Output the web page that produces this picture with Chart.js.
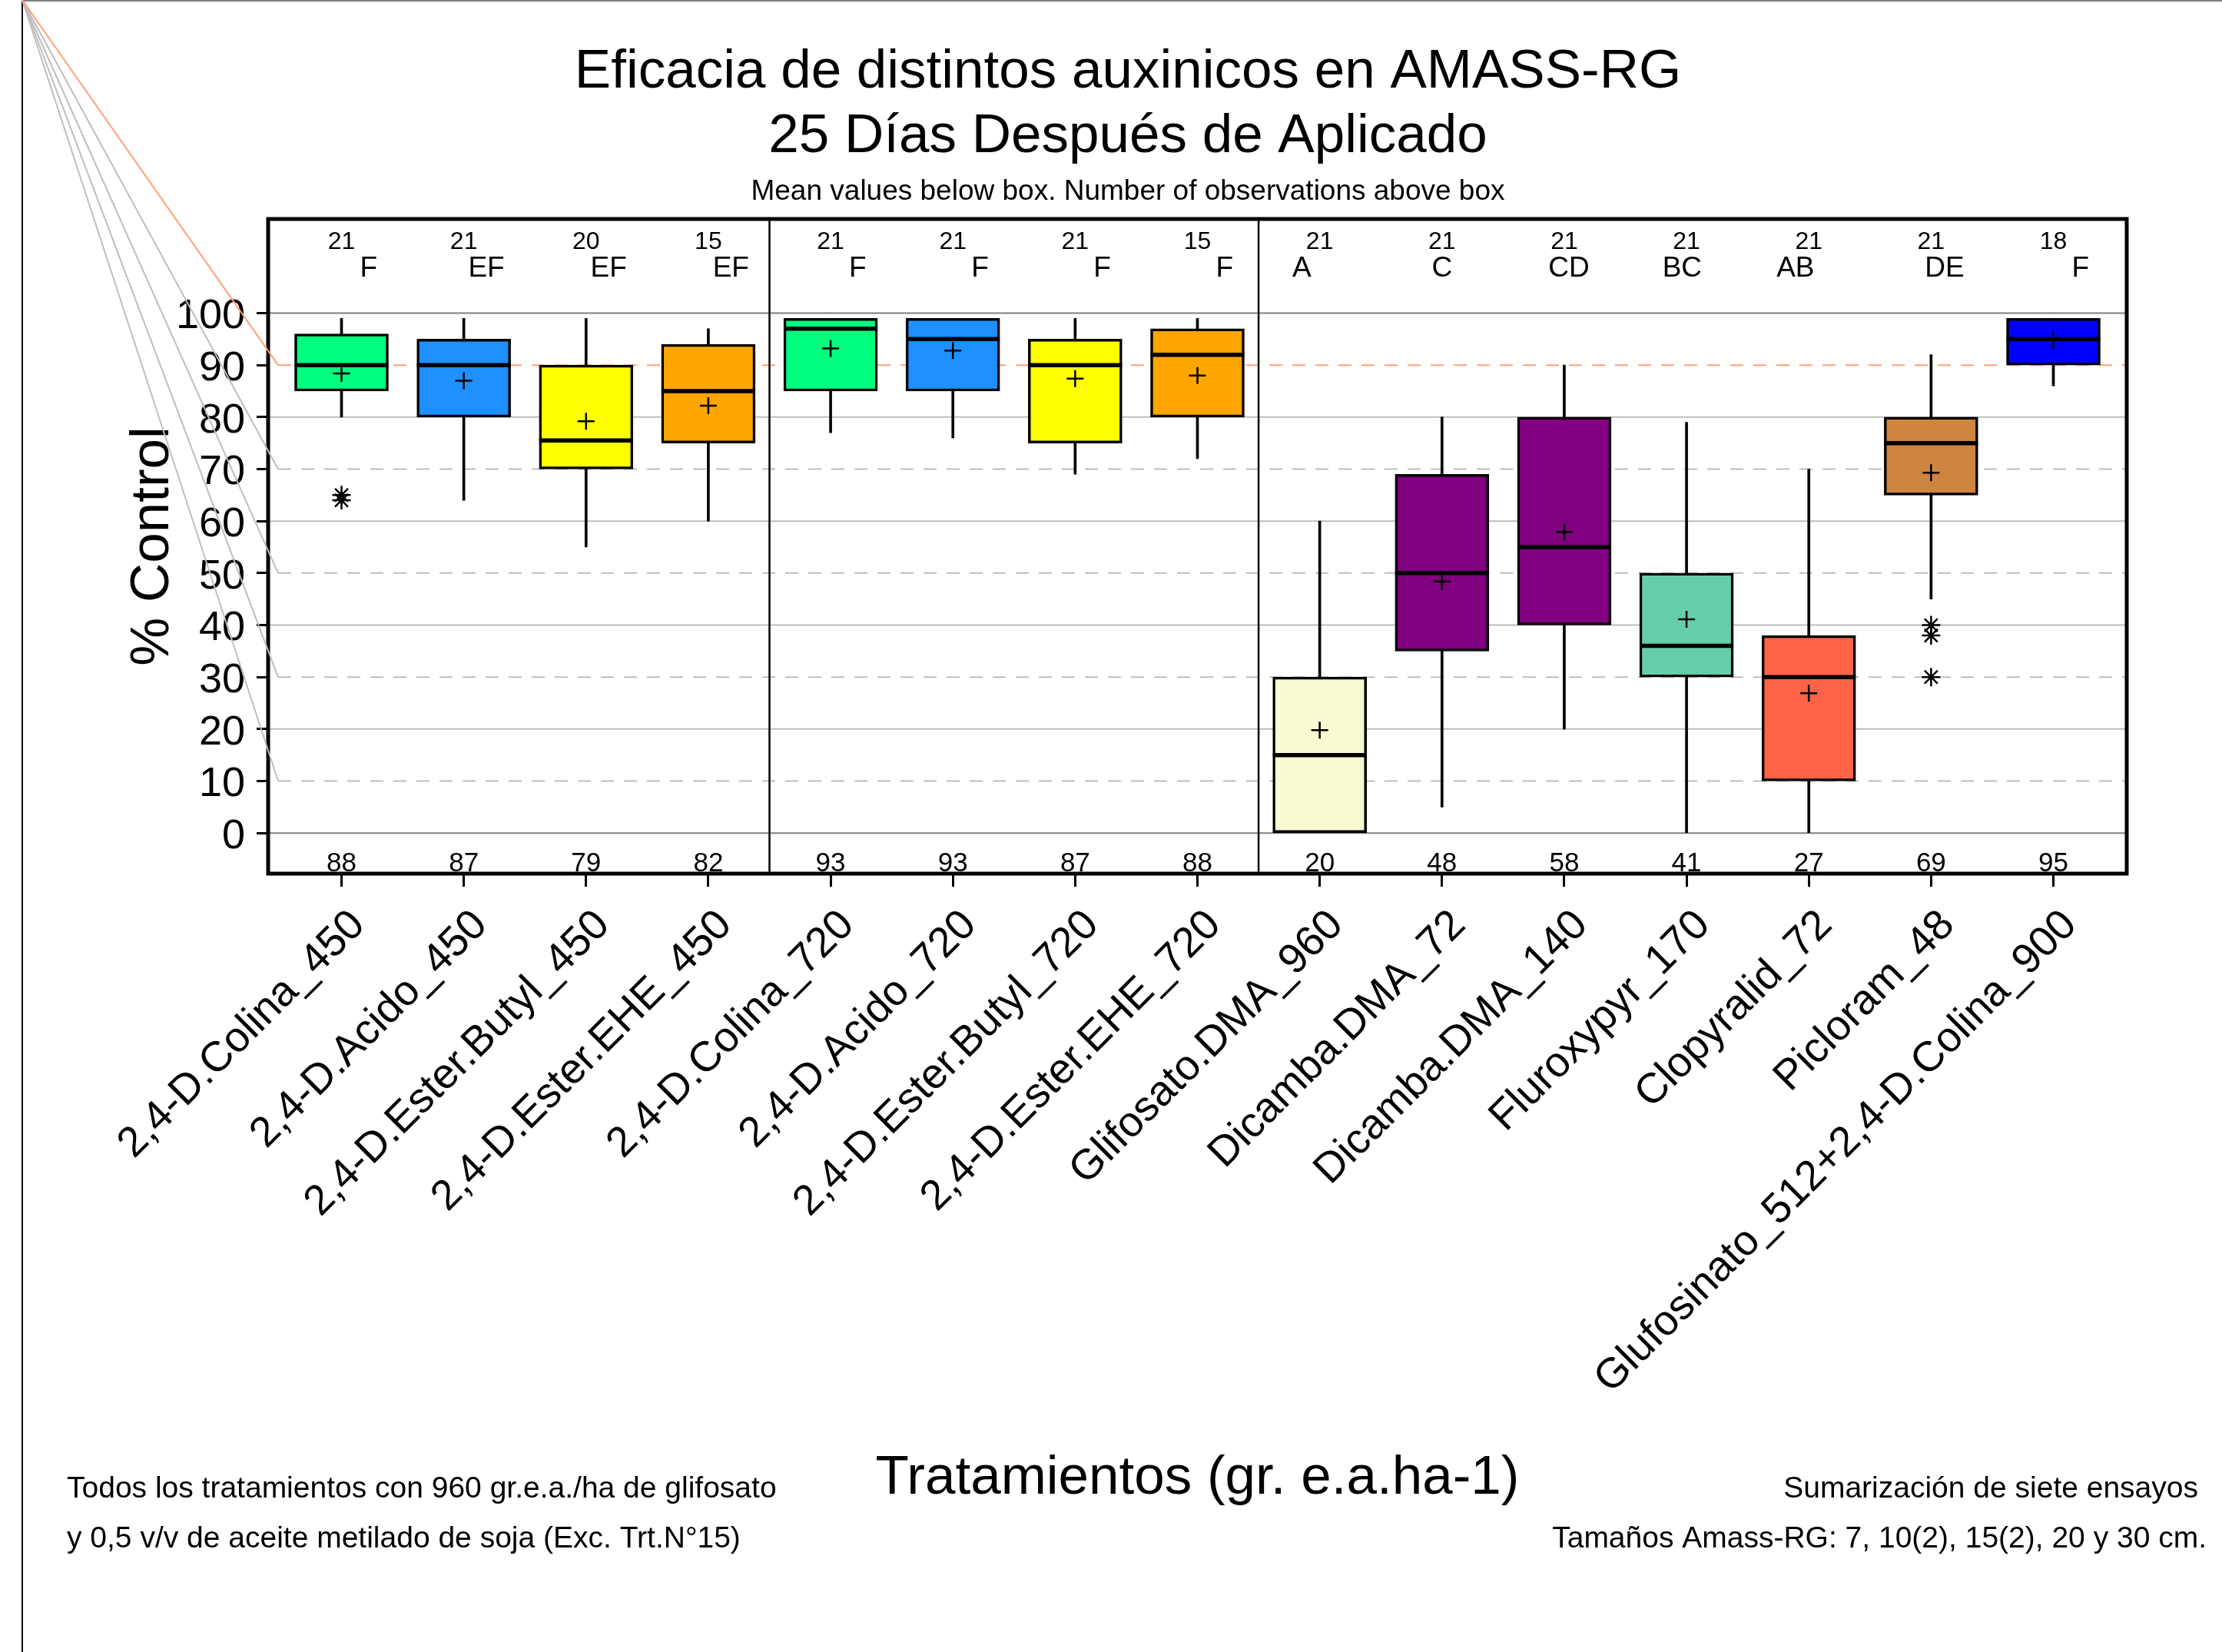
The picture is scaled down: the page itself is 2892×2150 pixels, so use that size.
<!DOCTYPE html>
<html>
<head>
<meta charset="utf-8">
<title>Eficacia de distintos auxinicos en AMASS-RG</title>
<script src="https://cdn.jsdelivr.net/npm/chart.js@4.4.1/dist/chart.umd.min.js"></script>
<style>
  html, body { margin: 0; padding: 0; background: #fff; }
  #wrap { width: 2892px; height: 2150px; position: relative; }
</style>
</head>
<body>
<div id="wrap"><canvas id="boxChart"></canvas></div>
<script>
// treatments, left to right
const categories = [
  '2,4-D.Colina_450', '2,4-D.Acido_450', '2,4-D.Ester.Butyl_450', '2,4-D.Ester.EHE_450',
  '2,4-D.Colina_720', '2,4-D.Acido_720', '2,4-D.Ester.Butyl_720', '2,4-D.Ester.EHE_720',
  'Glifosato.DMA_960', 'Dicamba.DMA_72', 'Dicamba.DMA_140', 'Fluroxypyr_170',
  'Clopyralid_72', 'Picloram_48', 'Glufosinato_512+2,4-D.Colina_900'
];

// box statistics (% control)
const whiskerLow  = [80, 64, 55, 60, 77, 76, 69, 72,  0,  5, 20,  0,  0, 45, 86];
const q1          = [85, 80, 70, 75, 85, 85, 75, 80,  0, 35, 40, 30, 10, 65, 90];
const median      = [90, 90, 75.5, 85, 97, 95, 90, 92, 15, 50, 55, 36, 30, 75, 95];
const q3          = [96, 95, 90, 94, 99, 99, 95, 97, 30, 69, 80, 50, 38, 80, 99];
const whiskerHigh = [99, 99, 99, 97, 99, 99, 99, 99, 60, 80, 90, 79, 70, 92, 99];
const means       = [88.4, 87.0, 79.2, 82.2, 93.2, 92.8, 87.4, 88.0, 19.8, 48.4, 57.9, 41.1, 26.9, 69.3, 94.8];

// observations and significance letters above the boxes
const nObs    = [21, 21, 20, 15, 21, 21, 21, 15, 21, 21, 21, 21, 21, 21, 18];
const letters = ['F', 'EF', 'EF', 'EF', 'F', 'F', 'F', 'F', 'A', 'C', 'CD', 'BC', 'AB', 'DE', 'F'];

// outliers (treatment number, value)
const outlierTrt   = [1, 1, 14, 14, 14];
const outlierValue = [65, 64, 40, 38, 30];

const boxColors = [
  '#00ff7f', '#1e90ff', '#ffff00', '#ffa500',
  '#00ff7f', '#1e90ff', '#ffff00', '#ffa500',
  '#fafad2', '#800080', '#800080', '#66cdaa', '#ff6347', '#cd853f', '#0000ff'
];

const yTicks = [0, 10, 20, 30, 40, 50, 60, 70, 80, 90, 100];
const dashedLines = [10, 30, 50, 70, 90];
const targetLine = 90;
const groupBreaks = [4.5, 8.5];

const FONT = '"Liberation Sans", Arial, sans-serif';
const xs = categories.map((_, i) => i + 1);

const decorations = {
  id: 'decorations',
  beforeDatasetsDraw(chart) {
    const { ctx, chartArea: a, scales: { y } } = chart;
    ctx.save();
    ctx.lineWidth = 2;
    yTicks.forEach(v => {
      const py = y.getPixelForValue(v);
      ctx.beginPath();
      if (dashedLines.includes(v)) {
        ctx.setLineDash([17, 13]);
        ctx.strokeStyle = v === targetLine ? '#ffa07a' : '#bebebe';
        ctx.moveTo(a.left + 13, py);
      } else {
        ctx.setLineDash([]);
        ctx.strokeStyle = (v === 0 || v === 100) ? '#7f7f7f' : '#bebebe';
        ctx.moveTo(a.left, py);
      }
      ctx.lineTo(a.right, py);
      ctx.stroke();
    });
    ctx.restore();
  },
  afterDatasetsDraw(chart) {
    const { ctx, chartArea: a, scales: { x } } = chart;
    ctx.save();
    ctx.strokeStyle = '#000';
    ctx.lineWidth = 2.5;
    groupBreaks.forEach(b => {
      const px = x.getPixelForValue(b);
      ctx.beginPath();
      ctx.moveTo(px, a.top);
      ctx.lineTo(px, a.bottom);
      ctx.stroke();
    });
    ctx.lineWidth = 5;
    ctx.strokeRect(a.left, a.top, a.right - a.left, a.bottom - a.top);

    ctx.fillStyle = '#000';
    ctx.textAlign = 'center';
    ctx.textBaseline = 'alphabetic';
    xs.forEach((v, i) => {
      const px = x.getPixelForValue(v);
      ctx.font = '32px ' + FONT;
      ctx.fillText(String(nObs[i]), px, a.top + 39);
      // letters sit in an A..F column grid
      const cols = letters[i].split('').map(c => c.charCodeAt(0) - 65);
      const mid = (cols[0] + cols[cols.length - 1]) / 2;
      ctx.font = '37px ' + FONT;
      ctx.fillText(letters[i], px + (mid - 2.5) * 11.7 + 6, a.top + 75);
      ctx.font = '35px ' + FONT;
      ctx.fillText(String(Math.round(means[i])), px, a.bottom - 3);
    });
    ctx.restore();
  },
  afterDraw(chart) {
    const { ctx, chartArea: a, scales: { y } } = chart;
    ctx.save();
    // page edges
    ctx.lineWidth = 2;
    ctx.strokeStyle = '#808080';
    ctx.beginPath(); ctx.moveTo(29, 1); ctx.lineTo(2892, 1); ctx.stroke();
    ctx.strokeStyle = '#000';
    ctx.beginPath(); ctx.moveTo(29, 0); ctx.lineTo(29, 2150); ctx.stroke();
    // leader strokes to the dashed lines
    dashedLines.forEach(v => {
      ctx.strokeStyle = v === targetLine ? '#ffa07a' : '#bebebe';
      ctx.beginPath();
      ctx.moveTo(29, 0);
      ctx.lineTo(a.left + 13, y.getPixelForValue(v));
      ctx.stroke();
    });

    ctx.fillStyle = '#000';
    ctx.textBaseline = 'alphabetic';
    ctx.textAlign = 'center';
    ctx.font = '71px ' + FONT;
    ctx.fillText('Eficacia de distintos auxinicos en AMASS-RG', 1468, 114);
    ctx.fillText('25 Días Después de Aplicado', 1468, 198);
    ctx.font = '37px ' + FONT;
    ctx.fillText('Mean values below box. Number of observations above box', 1468, 260);

    ctx.font = '39px ' + FONT;
    ctx.textAlign = 'left';
    ctx.fillText('Todos los tratamientos con 960 gr.e.a./ha de glifosato', 87, 1949);
    ctx.fillText('y 0,5 v/v de aceite metilado de soja (Exc. Trt.N°15)', 87, 2014);
    ctx.textAlign = 'right';
    ctx.fillText('Sumarización de siete ensayos', 2861, 1949);
    ctx.fillText('Tamaños Amass-RG: 7, 10(2), 15(2), 20 y 30 cm.', 2872, 2014);
    ctx.restore();
  }
};

new Chart(document.getElementById('boxChart'), {
  type: 'bar',
  data: {
    datasets: [
      {
        label: 'Bigotes',
        data: xs.map((v, i) => ({ x: v, y: [whiskerLow[i], whiskerHigh[i]] })),
        backgroundColor: '#000',
        borderWidth: 0,
        barThickness: 3,
        grouped: false,
        order: 3
      },
      {
        label: 'Caja',
        data: xs.map((v, i) => ({ x: v, y: [q1[i], q3[i]] })),
        backgroundColor: boxColors,
        borderColor: '#000',
        borderWidth: 3.5,
        borderSkipped: false,
        barThickness: 122,
        grouped: false,
        order: 2
      },
      {
        type: 'line',
        label: 'Mediana',
        data: xs.map((v, i) => ({ x: v, y: median[i] })),
        showLine: false,
        pointStyle: 'line',
        pointRadius: 61,
        pointBorderWidth: 5.5,
        pointBorderColor: '#000',
        order: 1
      },
      {
        type: 'line',
        label: 'Media',
        data: xs.map((v, i) => ({ x: v, y: means[i] })),
        showLine: false,
        pointStyle: 'cross',
        pointRadius: 11,
        pointBorderWidth: 2.5,
        pointBorderColor: '#000',
        order: 0
      },
      {
        type: 'line',
        label: 'Atipicos',
        data: outlierTrt.map((t, i) => ({ x: t, y: outlierValue[i] })),
        showLine: false,
        pointStyle: 'star',
        pointRadius: 12,
        pointBorderWidth: 2.5,
        pointBorderColor: '#000',
        order: 0
      }
    ]
  },
  options: {
    responsive: true,
    maintainAspectRatio: false,
    devicePixelRatio: 1,
    animation: false,
    events: [],
    layout: { padding: { top: 285, right: 124, left: 0, bottom: 0 } },
    plugins: { legend: { display: false }, tooltip: { enabled: false }, title: { display: false } },
    scales: {
      x: {
        type: 'linear',
        min: 0.4,
        max: 15.6,
        offset: false,
        afterBuildTicks: s => { s.ticks = xs.map(v => ({ value: v })); },
        afterFit: s => { s.height = 1013; },
        ticks: {
          autoSkip: false,
          minRotation: 45,
          maxRotation: 45,
          padding: 18,
          labelOffset: 22,
          color: '#000',
          font: { family: FONT, size: 55 },
          callback: v => categories[v - 1]
        },
        grid: { offset: false, drawOnChartArea: false, drawTicks: true, tickLength: 17, tickWidth: 3, tickColor: '#000' },
        border: { display: false },
        title: {
          display: true,
          text: 'Tratamientos (gr. e.a.ha-1)',
          color: '#000',
          font: { family: FONT, size: 71 },
          padding: { top: 0, bottom: 183 }
        }
      },
      y: {
        min: -7.8,
        max: 118.1,
        afterBuildTicks: s => { s.ticks = yTicks.map(v => ({ value: v })); },
        afterFit: s => { s.width = 349; },
        ticks: {
          padding: 15,
          labelOffset: 5,
          color: '#000',
          font: { family: FONT, size: 54 }
        },
        grid: { drawOnChartArea: false, drawTicks: true, tickLength: 15, tickWidth: 3, tickColor: '#000' },
        border: { display: false },
        title: {
          display: true,
          text: '% Control',
          color: '#000',
          font: { family: FONT, size: 71 },
          padding: { top: 157, bottom: 0 }
        }
      }
    }
  },
  plugins: [decorations]
});
</script>
</body>
</html>
